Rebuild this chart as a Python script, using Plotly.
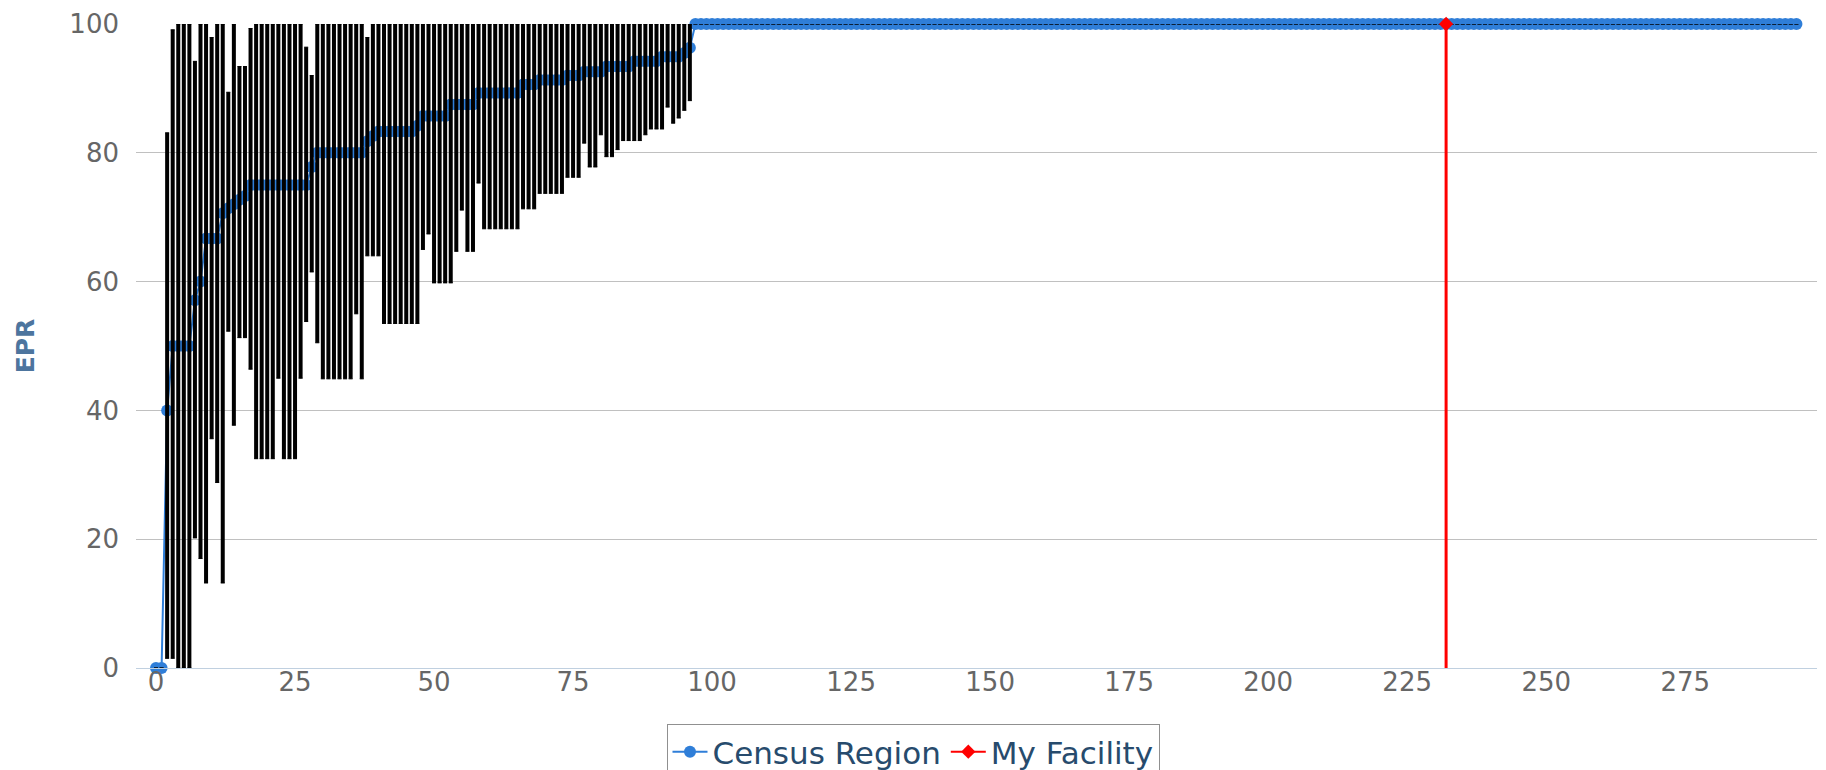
import plotly.graph_objects as go

# ---------------- data ----------------
# Census Region: sorted EPR values, indices 0..96 below 100, then 100 for 97..295
census_head = [
    0, 0, 40, 50, 50, 50, 50, 57.1, 60, 66.7,
    66.7, 66.7, 70.6, 71.4, 72, 72.7, 73.3, 75, 75, 75,
    75, 75, 75, 75, 75, 75, 75, 75, 77.8, 80,
    80, 80, 80, 80, 80, 80, 80, 80, 81.8, 82.6,
    83.3, 83.3, 83.3, 83.3, 83.3, 83.3, 83.3, 84.2, 85.7, 85.7,
    85.7, 85.7, 85.7, 87.5, 87.5, 87.5, 87.5, 87.5, 89.3, 89.3,
    89.3, 89.3, 89.3, 89.3, 89.3, 89.3, 90.6, 90.6, 90.6, 91.3,
    91.3, 91.3, 91.3, 91.3, 92, 92, 92, 92.6, 92.6, 92.6,
    92.6, 93.4, 93.4, 93.4, 93.4, 93.4, 94.2, 94.2, 94.2, 94.2,
    94.2, 94.9, 94.9, 94.9, 94.9, 95.5, 96.3,
]
census_low_head = [
    0, 0, 1.5, 1.5, 0, 0, 0, 20.2, 17, 13.2,
    35.6, 28.8, 13.2, 52.3, 37.7, 51.3, 51.3, 46.4, 32.5, 32.5,
    32.5, 32.5, 45, 32.5, 32.5, 32.5, 45, 53.8, 61.5, 50.5,
    44.9, 44.9, 44.9, 44.9, 44.9, 44.9, 55, 44.9, 64, 64,
    64, 53.5, 53.5, 53.5, 53.5, 53.5, 53.5, 53.5, 65, 67.4,
    59.8, 59.8, 59.8, 59.8, 64.7, 71.1, 64.7, 64.7, 75.3, 68.2,
    68.2, 68.2, 68.2, 68.2, 68.2, 68.2, 71.3, 71.3, 71.3, 73.7,
    73.7, 73.7, 73.7, 73.7, 76.2, 76.2, 76.2, 81.5, 77.8, 77.8,
    82.8, 79.4, 79.4, 80.5, 81.9, 81.9, 81.9, 81.9, 82.8, 83.7,
    83.7, 83.7, 87.1, 84.6, 85.4, 86.6, 88.1,
]
census_high_head = [
    0, 0, 83.1, 99.1, 100, 100, 100, 94.2, 100, 100,
    97.9, 100, 100, 89.4, 100, 93.4, 93.4, 99.3, 100, 100,
    100, 100, 100, 100, 100, 100, 100, 96.4, 92, 100,
    100, 100, 100, 100, 100, 100, 100, 100, 97.9, 100,
    100, 100, 100, 100, 100, 100, 100, 100, 100, 100,
    100, 100, 100, 100, 100, 100, 100, 100, 100, 100,
    100, 100, 100, 100, 100, 100, 100, 100, 100, 100,
    100, 100, 100, 100, 100, 100, 100, 100, 100, 100,
    100, 100, 100, 100, 100, 100, 100, 100, 100, 100,
    100, 100, 100, 100, 100, 100, 100,
]
n_top = 199  # facilities at EPR 100 (indices 97..295), zero-width ranges
census_values = census_head + [100.0] * n_top
census_low = census_low_head + [100.0] * n_top
census_high = census_high_head + [100.0] * n_top
census_x = list(range(len(census_values)))

facility_x = [232]
facility_y = [100]
facility_low = [0]

x_ticks = [0, 25, 50, 75, 100, 125, 150, 175, 200, 225, 250, 275]
y_ticks = [0, 20, 40, 60, 80, 100]

FONT = "DejaVu Sans"
BLUE = "#2f7ed8"

err_plus = [h - l for h, l in zip(census_high, census_low)]
err_zero = [0] * len(census_low)

fig = go.Figure()

fig.add_trace(go.Scatter(
    x=census_x, y=census_values, name="Census Region",
    mode="lines+markers",
    line=dict(color=BLUE, width=2),
    marker=dict(color=BLUE, size=12, symbol="circle"),
    cliponaxis=False,
))

# whiskers (thin caps)
fig.add_trace(go.Scatter(
    x=census_x, y=census_low, mode="markers", showlegend=False,
    marker=dict(size=1, opacity=0), hoverinfo="skip",
    error_y=dict(type="data", symmetric=False, array=err_plus,
                 arrayminus=err_zero, color="black", thickness=1, width=2),
    cliponaxis=False,
))
# stems (thick)
fig.add_trace(go.Scatter(
    x=census_x, y=census_low, mode="markers", showlegend=False,
    marker=dict(size=1, opacity=0), hoverinfo="skip",
    error_y=dict(type="data", symmetric=False, array=err_plus,
                 arrayminus=err_zero, color="black", thickness=4, width=0),
    cliponaxis=False,
))

fig.add_trace(go.Scatter(
    x=facility_x, y=facility_y, name="My Facility",
    mode="lines+markers",
    line=dict(color="#ff0000", width=2),
    marker=dict(color="#ff0000", size=11, symbol="diamond"),
    error_y=dict(type="data", symmetric=False, array=[0],
                 arrayminus=[facility_y[0] - facility_low[0]],
                 color="#ff0000", thickness=3, width=0),
    cliponaxis=False,
))

fig.update_layout(
    width=1826, height=770,
    margin=dict(l=136, r=9, t=21, b=102, pad=0),
    paper_bgcolor="white", plot_bgcolor="white",
    font=dict(family=FONT, color="#666666"),
    showlegend=True,
    legend=dict(
        orientation="h",
        xref="container", yref="container",
        x=0.5, xanchor="center", y=1 - 724 / 770, yanchor="top",
        font=dict(family=FONT, size=31, color="#274b6d"),
        bordercolor="#909090", borderwidth=1, bgcolor="white",
        itemwidth=35,
    ),
    xaxis=dict(
        range=[-3.6, 298.7],
        tickvals=x_ticks, ticktext=[str(v) for v in x_ticks],
        showgrid=False, zeroline=False,
        showline=True, linecolor="#C0D0E0", linewidth=1,
        ticks="",
        ticklabelstandoff=-9,
        tickfont=dict(family=FONT, size=26, color="#666666"),
    ),
    yaxis=dict(
        range=[0, 100],
        tickvals=y_ticks, ticktext=[str(v) for v in y_ticks],
        showgrid=True, gridcolor="#C0C0C0", gridwidth=1,
        zeroline=False, showline=False, ticks="",
        ticklabelstandoff=16,
        tickfont=dict(family=FONT, size=26, color="#666666"),
        title=dict(text="<b>EPR</b>", standoff=27,
                   font=dict(family=FONT, size=25, color="#4d759e")),
    ),
)

fig.write_html(
    "out.html",
    config={"displayModeBar": False},
    post_script="document.body.style.margin='0px';document.body.style.overflow='hidden';",
)
